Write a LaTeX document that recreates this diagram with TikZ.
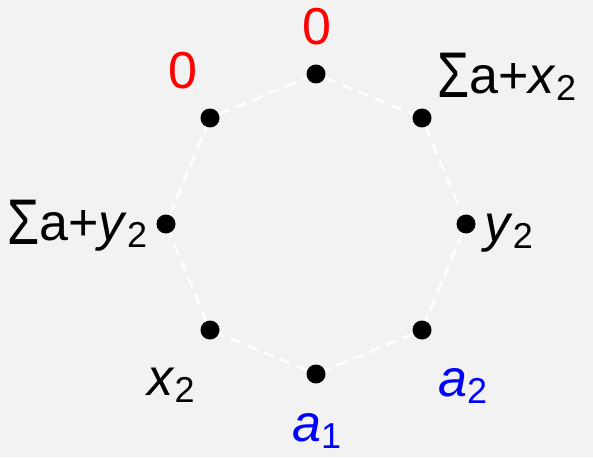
\documentclass[tikz,border=0pt]{standalone}
\usepackage{fontspec}
\usepackage{graphicx}
\setmainfont{Liberation Sans}
\definecolor{bgc}{HTML}{F2F2F2}
\definecolor{lred}{HTML}{FF0000}
\definecolor{lblue}{HTML}{0000FF}
\newcommand\lsub[1]{\raisebox{-7pt}{\fontsize{36}{36}\selectfont #1}}
\newcommand\lsum{\raisebox{-4pt}{\scalebox{1}[1.24]{Σ}}}
\tikzset{
  dot/.style={circle,fill=black,inner sep=0pt,minimum size=19pt},
  edge/.style={white,line width=2.6pt,dash pattern=on 11pt off 7pt},
  lab/.style={inner sep=0pt,font=\fontsize{52}{52}\selectfont},
}
\begin{document}
\begin{tikzpicture}[x=1pt,y=-1pt]
\fill[bgc] (0,0) rectangle (593,457);
\useasboundingbox (0,0) rectangle (593,457);
\node[dot] (n0) at (316,74) {};
\node[dot] (n1) at (422,118) {};
\node[dot] (n2) at (466,224) {};
\node[dot] (n3) at (422,330) {};
\node[dot] (n4) at (316,374) {};
\node[dot] (n5) at (210,330) {};
\node[dot] (n6) at (166,224) {};
\node[dot] (n7) at (210,118) {};
\draw[edge] (n0) -- (n1);
\draw[edge] (n1) -- (n2);
\draw[edge] (n2) -- (n3);
\draw[edge] (n3) -- (n4);
\draw[edge] (n4) -- (n5);
\draw[edge] (n5) -- (n6);
\draw[edge] (n6) -- (n7);
\draw[edge] (n7) -- (n0);
\node[lab,lred,anchor=base] (l0) at (317,45) {0};
\node[lab,lred,anchor=base] (l7) at (183,89) {0};
\node[lab,anchor=base west] (l1) at (437,94) {\lsum a+\textit{x}\lsub{2}};
\node[lab,anchor=base west] (l2) at (484,241) {\textit{y}\lsub{2}};
\node[lab,lblue,anchor=base west] (l3) at (438,396) {\textit{a}\lsub{2}};
\node[lab,lblue,anchor=base west] (l4) at (292,441) {\textit{a}\lsub{1}};
\node[lab,anchor=base west] (l5) at (147,395) {\textit{x}\lsub{2}};
\node[lab,anchor=base west] (l6) at (7,240) {\lsum a+\textit{y}\lsub{2}};
\end{tikzpicture}
\end{document}
